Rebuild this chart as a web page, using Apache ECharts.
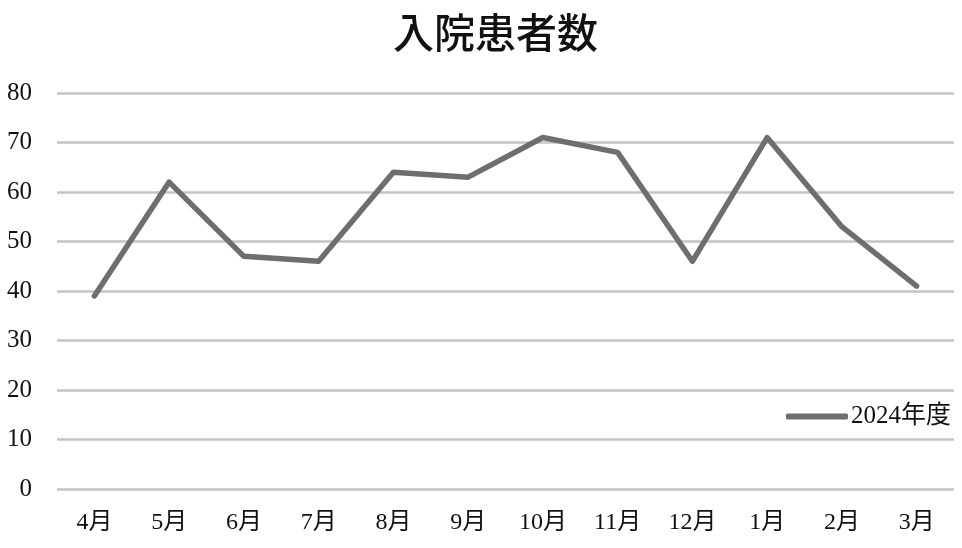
<!DOCTYPE html>
<html lang="ja">
<head>
    <meta charset="UTF-8">
    <script src="https://cdn.jsdelivr.net/npm/echarts@6/dist/echarts.min.js"></script>
    <title>入院患者数</title>
    <style>
        html, body {
            margin: 0;
            padding: 0;
            background: #fff;
        }

        #main {
            width: 962px;
            height: 548px;
        }
    </style>
</head>

<body>
<div id="main"></div>
<script type="text/javascript">
    // 月（年度順）
    var months = ['4月', '5月', '6月', '7月', '8月', '9月', '10月', '11月', '12月', '1月', '2月', '3月'];
    // 2024年度の入院患者数
    var patients2024 = [39, 62, 47, 46, 64, 63, 71, 68, 46, 71, 53, 41];
    var seriesName = '2024年度';
    var yMin = 0, yMax = 80, yStep = 10;

    var serifFont = '"Liberation Serif", "Noto Sans CJK JP", serif';

    var myChart = echarts.init(document.getElementById('main'));
    var option = {
        animation: false,
        title: {
            text: '入院患者数',
            left: 388,
            top: 7,
            textStyle: {
                fontFamily: '"Noto Sans CJK JP", sans-serif',
                fontSize: 41,
                fontWeight: 500,
                color: '#111'
            }
        },
        legend: {
            data: [seriesName],
            right: 6,
            top: 399,
            icon: 'roundRect',
            itemWidth: 62,
            itemHeight: 6,
            itemGap: 4,
            textStyle: {
                fontFamily: serifFont,
                fontSize: 25,
                color: '#111',
                padding: [0, 0, 0, -2]
            }
        },
        grid: {
            left: 57,
            right: 8,
            top: 93,
            bottom: 59,
            containLabel: false
        },
        xAxis: {
            type: 'category',
            data: months,
            boundaryGap: true,
            axisLine: {show: false},
            axisTick: {show: false},
            axisLabel: {
                margin: 22,
                fontFamily: serifFont,
                fontSize: 24,
                color: '#111'
            }
        },
        yAxis: {
            type: 'value',
            min: yMin,
            max: yMax,
            interval: yStep,
            axisLine: {show: false},
            axisTick: {show: false},
            axisLabel: {
                margin: 25,
                fontFamily: serifFont,
                fontSize: 25,
                color: '#111'
            },
            splitLine: {
                lineStyle: {color: '#c4c4c4', width: 2.5}
            }
        },
        series: [{
            name: seriesName,
            type: 'line',
            data: patients2024,
            symbol: 'none',
            itemStyle: {color: '#6e6e6e'},
            lineStyle: {color: '#6e6e6e', width: 5.5, cap: 'round', join: 'round'}
        }]
    };
    myChart.setOption(option);
</script>
</body>

</html>
